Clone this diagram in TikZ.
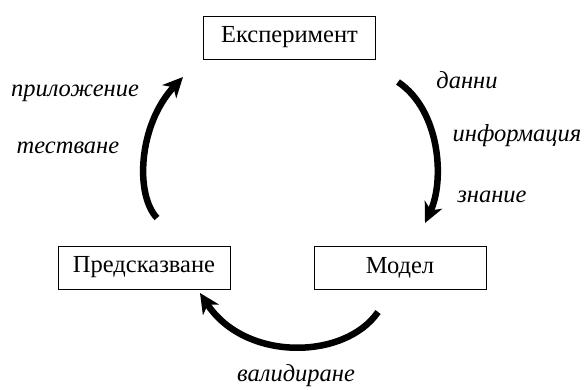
\documentclass[tikz,border=0pt]{standalone}
\usepackage{fontspec}
\setmainfont{Liberation Serif}
\usetikzlibrary{arrows.meta}

\tikzset{
	box/.style={draw, rectangle, line width=0.6pt, minimum width=172pt, minimum height=43pt, font=\fontsize{24.5}{27}\selectfont},
	lbl/.style={font=\fontsize{24.5}{27}\selectfont\itshape},
	cyc/.style={line width=6.5pt, -{Stealth[length=20pt, width=19pt, inset=6pt]}}
}

\begin{document}
\begin{tikzpicture}[x=1pt, y=-1pt]
				\useasboundingbox (0, 0) rectangle (584, 390);
				\node[box] (Eksp)at(289.5, 37.5) {Експеримент};
				\node[box] (Pred)at(144, 267.5) {Предсказване};
				\node[box] (Model)at(400, 268) {Модел};
				\coordinate (dannStart)at(398, 82);
				\coordinate (dannEnd)at(425, 223);
				\coordinate (valStart)at(378, 312);
				\coordinate (valEnd)at(200, 293);
				\coordinate (testStart)at(157, 218);
				\coordinate (testEnd)at(183, 77);
				\draw[cyc] (dannStart) .. controls (440, 110) and (445, 180) .. (dannEnd);
				\draw[cyc] (valStart) .. controls (345, 360) and (245, 362) .. (valEnd);
				\draw[cyc] (testStart) .. controls (135, 195) and (138, 125) .. (testEnd);
				\node[lbl] (dann)at(467, 80) {данни};
				\node[lbl] (info)at(517, 136) {информация};
				\node[lbl] (znan)at(492, 197) {знание};
				\node[lbl] (vali)at(296, 376) {валидиране};
				\node[lbl] (pril)at(75, 93) {приложение};
				\node[lbl] (test)at(68, 148) {тестване};
			\end{tikzpicture}
\end{document}
